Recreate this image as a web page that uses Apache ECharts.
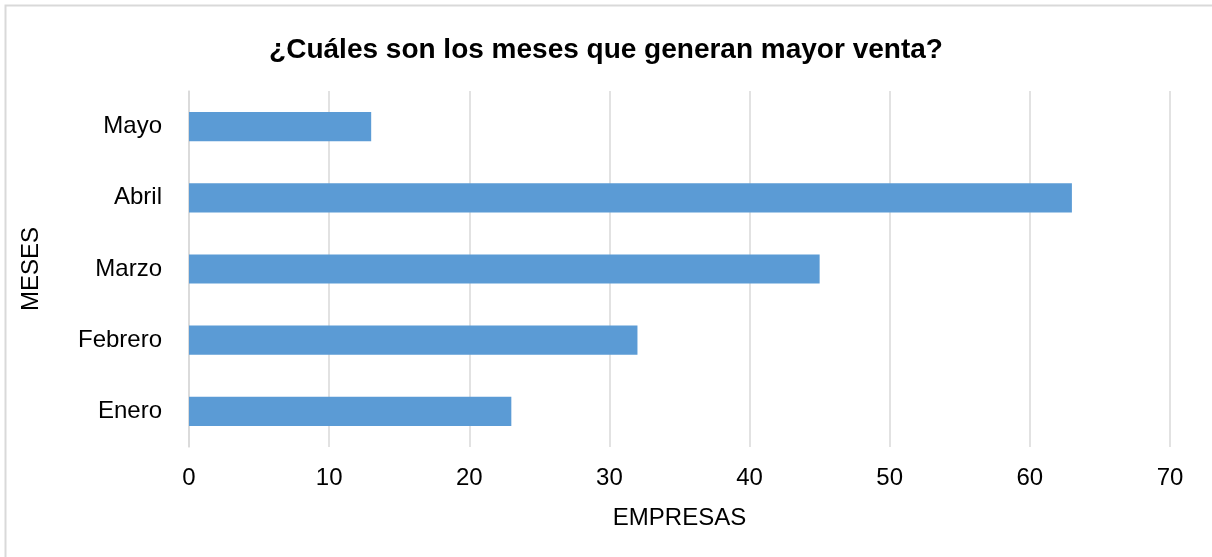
<!DOCTYPE html>
<html>
<head>
<meta charset="utf-8">
<script src="https://cdn.jsdelivr.net/npm/echarts@6/dist/echarts.min.js"></script>
<style>
  html, body { margin: 0; padding: 0; background: #fff; }
  #myChart { width: 1212px; height: 557px; }
</style>
</head>
<body>
<div id="myChart"></div>
<script>
var meses = ['Enero', 'Febrero', 'Marzo', 'Abril', 'Mayo'];
var empresas = [23, 32, 45, 63, 13];
var xTicks = [0, 10, 20, 30, 40, 50, 60, 70];

var fuente = "'Liberation Sans', Arial, sans-serif";

var option = {
    animation: false,
    backgroundColor: '#fff',
    textStyle: { fontFamily: fuente },
    graphic: [
        {
            type: 'rect',
            shape: { x: 5.5, y: 5.5, width: 1230, height: 580 },
            style: { fill: 'none', stroke: '#d9d9d9', lineWidth: 2 },
            silent: true
        }
    ],
    title: {
        text: '¿Cuáles son los meses que generan mayor venta?',
        left: 'center',
        top: 31,
        textStyle: { fontFamily: fuente, fontSize: 28, fontWeight: 'bold', color: '#000' }
    },
    grid: { left: 189, right: 42, top: 91, bottom: 110 },
    xAxis: {
        type: 'value',
        min: xTicks[0],
        max: xTicks[xTicks.length - 1],
        interval: 10,
        name: 'EMPRESAS',
        nameLocation: 'middle',
        nameGap: 59,
        nameTextStyle: { fontFamily: fuente, fontSize: 24, color: '#000' },
        axisLine: { show: false },
        axisTick: { show: false },
        axisLabel: { fontFamily: fuente, fontSize: 24, color: '#000', margin: 19 },
        splitLine: { show: true, lineStyle: { color: '#d9d9d9', width: 1.5 } }
    },
    yAxis: {
        type: 'category',
        data: meses,
        name: 'MESES',
        nameLocation: 'middle',
        nameGap: 146,
        nameRotate: 90,
        nameTextStyle: { fontFamily: fuente, fontSize: 24, color: '#000' },
        axisLine: { show: true, lineStyle: { color: '#d9d9d9', width: 1.5 } },
        axisTick: { show: false },
        axisLabel: { fontFamily: fuente, fontSize: 24, color: '#000', margin: 27 }
    },
    series: [
        {
            name: 'Empresas',
            type: 'bar',
            data: empresas,
            barWidth: '41%',
            itemStyle: { color: '#5b9bd5' }
        }
    ]
};

var myChart = echarts.init(document.getElementById('myChart'));
myChart.setOption(option);
</script>
</body>
</html>
